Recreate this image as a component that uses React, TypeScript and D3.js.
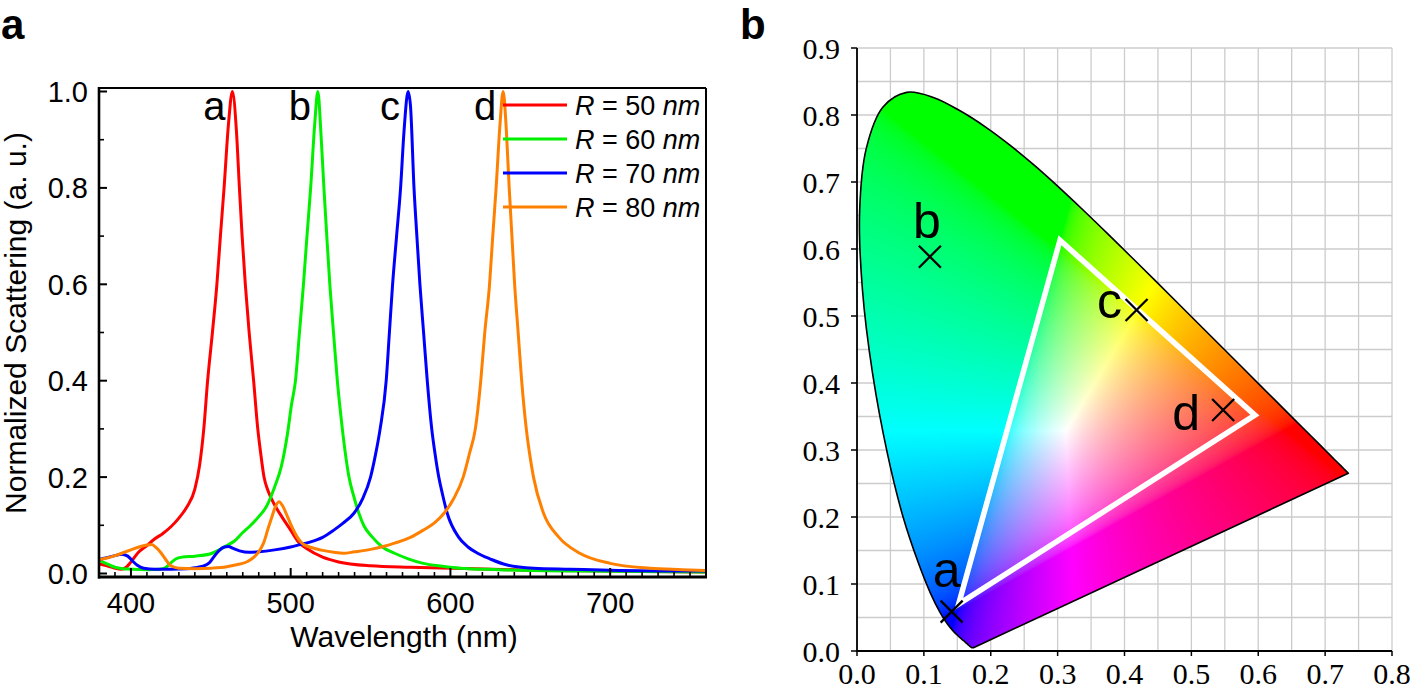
import React, { useMemo } from 'react';
import * as d3 from 'd3';

const W = 1415;
const H = 690;

// ---------------- Panel a data ----------------
const seriesLabels = ['50', '60', '70', '80'];
const seriesColors = ['#ff0000', '#00f000', '#0000ff', '#ff8000'];
const peakNames = ['a', 'b', 'c', 'd'];

const r50: [number, number][] = [
  [380, 0.020], [385, 0.016], [390, 0.011], [394, 0.009], [397, 0.013], [400, 0.024], [405, 0.045],
  [410, 0.058], [415, 0.072], [420, 0.083], [425, 0.097], [430, 0.115], [435, 0.138], [440, 0.175],
  [443, 0.225], [445.6, 0.30], [448, 0.40], [451, 0.50], [453.8, 0.60], [456, 0.70], [458.3, 0.80],
  [461, 0.93], [463.5, 1.0], [466, 0.92], [467.9, 0.80], [469.6, 0.70], [471.6, 0.60], [474, 0.50],
  [476.8, 0.40], [479.4, 0.30], [481.2, 0.25], [483.3, 0.20], [486, 0.17], [490, 0.142], [495, 0.115],
  [500, 0.090], [505, 0.065], [510, 0.052], [520, 0.034], [530, 0.024], [550, 0.016], [575, 0.013],
  [600, 0.011], [650, 0.007], [700, 0.005], [760, 0.003],
];
const r60: [number, number][] = [
  [380, 0.028], [385, 0.020], [390, 0.013], [395, 0.010], [400, 0.009], [410, 0.008], [418, 0.009],
  [422, 0.013], [425, 0.022], [428, 0.030], [432, 0.034], [440, 0.036], [450, 0.041], [460, 0.058],
  [465, 0.068], [470, 0.085], [475, 0.100], [480, 0.118], [485, 0.140], [490, 0.180], [494, 0.22],
  [498, 0.29], [500.5, 0.35], [503, 0.40], [505.5, 0.50], [508, 0.60], [510.2, 0.70], [512.5, 0.80],
  [515, 0.93], [517, 1.0], [519, 0.91], [520.8, 0.80], [522.6, 0.70], [524.5, 0.60], [526.8, 0.50],
  [529.2, 0.40], [532, 0.31], [534, 0.255], [536.5, 0.20], [539.5, 0.16], [542.7, 0.125], [546, 0.098],
  [551, 0.076], [557, 0.056], [565, 0.042], [574, 0.030], [583, 0.021], [595, 0.015], [606, 0.011],
  [630, 0.008], [680, 0.005], [760, 0.003],
];
const r70: [number, number][] = [
  [380, 0.029], [385, 0.033], [390, 0.037], [394, 0.040], [398, 0.036], [401, 0.026], [404, 0.017],
  [408, 0.011], [415, 0.009], [425, 0.009], [435, 0.010], [440, 0.012], [445, 0.015], [449, 0.022],
  [452, 0.035], [455, 0.047], [458.5, 0.055], [461, 0.056], [464, 0.052], [468, 0.047], [474, 0.044],
  [480, 0.045], [490, 0.049], [500, 0.055], [506, 0.060], [512, 0.065], [520, 0.075], [527, 0.090],
  [533, 0.105], [539.6, 0.125], [545, 0.155], [550, 0.200], [553, 0.245], [556, 0.30], [559.8, 0.40],
  [561.8, 0.50], [563.8, 0.60], [566.3, 0.70], [568.8, 0.80], [571, 0.92], [573.5, 1.0], [575, 0.97],
  [577.2, 0.80], [579, 0.70], [580.9, 0.60], [583.2, 0.50], [585.5, 0.40], [588.3, 0.30], [590.3, 0.25],
  [592.7, 0.20], [595, 0.165], [598, 0.125], [605, 0.076], [611, 0.055], [617, 0.042], [625, 0.030],
  [635, 0.018], [652, 0.011], [675, 0.009], [700, 0.007], [760, 0.005],
];
const r80: [number, number][] = [
  [380, 0.029], [385, 0.032], [390, 0.037], [395, 0.043], [400, 0.049], [405, 0.055], [410, 0.059],
  [413, 0.060], [416, 0.053], [419, 0.042], [422, 0.028], [425, 0.016], [430, 0.011], [440, 0.010],
  [450, 0.011], [460, 0.014], [466, 0.018], [473, 0.025], [477, 0.034], [480, 0.045], [483, 0.063],
  [486, 0.095], [488, 0.115], [490, 0.135], [492.7, 0.149], [495, 0.140], [498, 0.118], [501, 0.095],
  [504, 0.076], [507, 0.063], [511, 0.056], [515, 0.052], [520, 0.048], [527, 0.044], [533, 0.042],
  [540, 0.045], [550, 0.050], [558, 0.056], [565, 0.063], [575, 0.075], [583, 0.090], [590, 0.105],
  [596, 0.125], [602, 0.155], [608, 0.20], [612, 0.25], [615.6, 0.30], [619, 0.40], [621.5, 0.50],
  [624.5, 0.60], [626.5, 0.70], [628.6, 0.80], [631, 0.93], [633, 1.0], [635, 0.92], [636.8, 0.80],
  [638.5, 0.70], [640.2, 0.60], [642.4, 0.50], [644.6, 0.40], [647.5, 0.30], [649.5, 0.25], [652, 0.20],
  [658.3, 0.125], [667.7, 0.076], [681, 0.042], [700, 0.021], [725, 0.011], [745, 0.008], [760, 0.006],
];
const seriesData = [r50, r60, r70, r80];

const xTicksA = [400, 500, 600, 700];
const xMinorA = d3.range(390, 761, 10);
const yTicksA = [0, 0.2, 0.4, 0.6, 0.8, 1.0];
const yMinorA = [0.1, 0.3, 0.5, 0.7, 0.9];

// ---------------- Panel b data ----------------
// CIE 1931 2° spectral locus, 380–700 nm in 5 nm steps
const locusX = [
  0.1741, 0.1740, 0.1738, 0.1736, 0.1733, 0.1730, 0.1726, 0.1721, 0.1714, 0.1703, 0.1689, 0.1669,
  0.1644, 0.1611, 0.1566, 0.1510, 0.1440, 0.1355, 0.1241, 0.1096, 0.0913, 0.0687, 0.0454, 0.0235,
  0.0082, 0.0039, 0.0139, 0.0389, 0.0743, 0.1142, 0.1547, 0.1929, 0.2296, 0.2658, 0.3016, 0.3373,
  0.3731, 0.4087, 0.4441, 0.4788, 0.5125, 0.5448, 0.5752, 0.6029, 0.6270, 0.6482, 0.6658, 0.6801,
  0.6915, 0.7006, 0.7079, 0.7140, 0.7190, 0.7230, 0.7260, 0.7283, 0.7300, 0.7311, 0.7320, 0.7327,
  0.7334, 0.7340, 0.7344, 0.7346, 0.7347,
];
const locusY = [
  0.0050, 0.0050, 0.0049, 0.0049, 0.0048, 0.0048, 0.0048, 0.0048, 0.0051, 0.0058, 0.0069, 0.0086,
  0.0109, 0.0138, 0.0177, 0.0227, 0.0297, 0.0399, 0.0578, 0.0868, 0.1327, 0.2007, 0.2950, 0.4127,
  0.5384, 0.6548, 0.7502, 0.8120, 0.8338, 0.8262, 0.8059, 0.7816, 0.7543, 0.7243, 0.6923, 0.6589,
  0.6245, 0.5896, 0.5547, 0.5202, 0.4866, 0.4544, 0.4242, 0.3965, 0.3725, 0.3514, 0.3340, 0.3197,
  0.3083, 0.2993, 0.2920, 0.2859, 0.2809, 0.2770, 0.2740, 0.2717, 0.2700, 0.2689, 0.2680, 0.2673,
  0.2666, 0.2660, 0.2656, 0.2654, 0.2653,
];
const triangleX = [0.152, 0.3035, 0.595];
const triangleY = [0.070, 0.613, 0.352];
const markerNames = ['a', 'b', 'c', 'd'];
const markerX = [0.1415, 0.109, 0.418, 0.5475];
const markerY = [0.0587, 0.5885, 0.509, 0.3597];
const xTicksB = [0, 0.1, 0.2, 0.3, 0.4, 0.5, 0.6, 0.7, 0.8];
const yTicksB = [0, 0.1, 0.2, 0.3, 0.4, 0.5, 0.6, 0.7, 0.8, 0.9];
const gridB = d3.range(0, 0.901, 0.05);

// label offsets (layout)
const markerLabelDx = [-5, -3, -27, -37];
const markerLabelDy = [-25, -19, 8, 20];

const SANS = "'Liberation Sans', Arial, Helvetica, sans-serif";
const SERIF = "'Liberation Serif', 'Times New Roman', Times, serif";

function xyToRGB(x: number, y: number): [number, number, number] {
  const X = x / y;
  const Y = 1;
  const Z = (1 - x - y) / y;
  let r = 3.2406 * X - 1.5372 * Y - 0.4986 * Z;
  let g = -0.9689 * X + 1.8758 * Y + 0.0415 * Z;
  let b = 0.0557 * X - 0.204 * Y + 1.057 * Z;
  r = Math.max(r, 0);
  g = Math.max(g, 0);
  b = Math.max(b, 0);
  const m = Math.max(r, g, b) || 1;
  const gam = (c: number) => {
    c = c / m;
    const v = c <= 0.0031308 ? 12.92 * c : 1.055 * Math.pow(c, 1 / 2.4) - 0.055;
    return Math.round(Math.min(1, Math.max(0, v)) * 255);
  };
  return [gam(r), gam(g), gam(b)];
}

export default function App() {
  // Panel a scales
  const ax = d3.scaleLinear().domain([380, 760]).range([99, 706]);
  const ay = d3.scaleLinear().domain([0, 1]).range([573.5, 91.5]);
  const frameTop = 88;
  const frameBottom = 577;
  const lineGen = d3
    .line<[number, number]>()
    .x((d) => ax(d[0]))
    .y((d) => ay(d[1]))
    .curve(d3.curveMonotoneX);

  // Panel b scales
  const bx = d3.scaleLinear().domain([0, 0.8]).range([857, 1392]);
  const by = d3.scaleLinear().domain([0, 0.9]).range([651, 48]);

  const locusPts: [number, number][] = locusX.map((x, i) => [bx(x), by(locusY[i])]);
  const locusPath = d3.line().curve(d3.curveCatmullRom.alpha(0.5))(locusPts) + 'Z';

  const imgHref = useMemo(() => {
    const x0 = Math.floor(bx(0));
    const y0 = Math.floor(by(0.9));
    const w = Math.ceil(bx(0.8)) - x0;
    const h = Math.ceil(by(0)) - y0;
    const canvas = document.createElement('canvas');
    canvas.width = w;
    canvas.height = h;
    const ctx = canvas.getContext('2d');
    if (!ctx) return '';
    const img = ctx.createImageData(w, h);
    for (let j = 0; j < h; j++) {
      const yy = by.invert(y0 + j + 0.5);
      for (let i = 0; i < w; i++) {
        const xx = bx.invert(x0 + i + 0.5);
        const k = (j * w + i) * 4;
        if (yy <= 0.001 || xx < 0) {
          img.data[k + 3] = 0;
          continue;
        }
        const [r, g, b] = xyToRGB(xx, yy);
        img.data[k] = r;
        img.data[k + 1] = g;
        img.data[k + 2] = b;
        img.data[k + 3] = 255;
      }
    }
    ctx.putImageData(img, 0, 0);
    return canvas.toDataURL();
  }, []);

  const imgX = Math.floor(bx(0));
  const imgY = Math.floor(by(0.9));
  const imgW = Math.ceil(bx(0.8)) - imgX;
  const imgH = Math.ceil(by(0)) - imgY;

  const triPath =
    d3.line()(triangleX.map((x, i) => [bx(x), by(triangleY[i])] as [number, number])) + 'Z';

  const peakOf = (d: [number, number][]) => d.reduce((a, b) => (b[1] > a[1] ? b : a));

  return (
    <svg
      width={W}
      height={H}
      style={{ position: 'absolute', left: 0, top: 0, background: '#fff' }}
      fontFamily={SANS}
    >
      <rect x={0} y={0} width={W} height={H} fill="#fff" />
      <defs>
        <clipPath id="clipA">
          <rect x={ax(380)} y={frameTop} width={ax(760) - ax(380)} height={frameBottom - frameTop} />
        </clipPath>
        <clipPath id="clipLocus">
          <path d={locusPath} />
        </clipPath>
      </defs>

      {/* ================= Panel a ================= */}
      <text x={1} y={39} fontSize={42} fontWeight="bold" fill="#000">
        a
      </text>

      {/* curves */}
      <g clipPath="url(#clipA)">
        {seriesData.map((d, i) => (
          <path
            key={i}
            d={lineGen(d) || ''}
            fill="none"
            stroke={seriesColors[i]}
            strokeWidth={3}
            strokeLinejoin="round"
          />
        ))}
      </g>

      {/* frame */}
      <line x1={ax(380)} x2={ax(760)} y1={frameTop} y2={frameTop} stroke="#000" strokeWidth={2} />
      <line x1={ax(760)} x2={ax(760)} y1={frameTop} y2={frameBottom} stroke="#000" strokeWidth={2} />
      <line x1={ax(380)} x2={ax(380)} y1={frameTop - 1} y2={frameBottom + 1.5} stroke="#000" strokeWidth={2.6} />
      <line x1={ax(380) - 1} x2={ax(760) + 1} y1={frameBottom} y2={frameBottom} stroke="#000" strokeWidth={3} />

      {/* ticks */}
      {xTicksA.map((t) => (
        <line key={'xt' + t} x1={ax(t)} x2={ax(t)} y1={frameBottom} y2={frameBottom - 9} stroke="#000" strokeWidth={2} />
      ))}
      {xMinorA.filter((t) => t % 100 !== 0).map((t) => (
        <line key={'xm' + t} x1={ax(t)} x2={ax(t)} y1={frameBottom} y2={frameBottom - 5} stroke="#000" strokeWidth={1.6} />
      ))}
      {yTicksA.map((t) => (
        <line key={'yt' + t} x1={ax(380)} x2={ax(380) + 8} y1={ay(t)} y2={ay(t)} stroke="#000" strokeWidth={2} />
      ))}
      {yMinorA.map((t) => (
        <line key={'ym' + t} x1={ax(380)} x2={ax(380) + 5} y1={ay(t)} y2={ay(t)} stroke="#000" strokeWidth={1.6} />
      ))}

      {/* tick labels */}
      {xTicksA.map((t) => (
        <text key={'xl' + t} x={ax(t)} y={613} fontSize={29} textAnchor="middle" fill="#000">
          {t}
        </text>
      ))}
      {yTicksA.map((t) => (
        <text key={'yl' + t} x={88} y={ay(t) + 10.5} fontSize={29} textAnchor="end" fill="#000">
          {t.toFixed(1)}
        </text>
      ))}

      {/* axis titles */}
      <text x={404} y={647} fontSize={30} textAnchor="middle" fill="#000">
        Wavelength (nm)
      </text>
      <text transform="translate(26,323) rotate(-90)" fontSize={30} textAnchor="middle" fill="#000">
        Normalized Scattering (a. u.)
      </text>

      {/* peak labels */}
      {seriesData.map((d, i) => {
        const p = peakOf(d);
        return (
          <text key={'pk' + i} x={ax(p[0]) - 18} y={120} fontSize={40} textAnchor="middle" fill="#000">
            {peakNames[i]}
          </text>
        );
      })}

      {/* legend */}
      {seriesLabels.map((s, i) => {
        const yy = 105 + i * 34;
        return (
          <g key={'lg' + i}>
            <line x1={503} x2={567} y1={yy} y2={yy} stroke={seriesColors[i]} strokeWidth={3} />
            <text x={575} y={yy + 9.5} fontSize={27} fill="#000">
              <tspan fontStyle="italic">R</tspan>
              <tspan>{' = ' + s + ' '}</tspan>
              <tspan fontStyle="italic">nm</tspan>
            </text>
          </g>
        );
      })}

      {/* ================= Panel b ================= */}
      <text x={740} y={39} fontSize={42} fontWeight="bold" fill="#000">
        b
      </text>

      {/* grid */}
      {gridB.filter((g) => g <= 0.8001).map((g, i) => (
        <line key={'gx' + i} x1={bx(g)} x2={bx(g)} y1={by(0)} y2={by(0.9)} stroke="#cccccc" strokeWidth={1.3} />
      ))}
      {gridB.map((g, i) => (
        <line key={'gy' + i} x1={bx(0)} x2={bx(0.8)} y1={by(g)} y2={by(g)} stroke="#cccccc" strokeWidth={1.3} />
      ))}

      {/* chromaticity fill */}
      {imgHref && (
        <image
          href={imgHref}
          x={imgX}
          y={imgY}
          width={imgW}
          height={imgH}
          preserveAspectRatio="none"
          clipPath="url(#clipLocus)"
        />
      )}
      <path d={locusPath} fill="none" stroke="#000" strokeWidth={1.6} strokeLinejoin="round" />

      {/* gamut triangle */}
      <path d={triPath} fill="none" stroke="#fff" strokeWidth={5.5} strokeLinejoin="miter" />

      {/* markers */}
      {markerX.map((x, i) => {
        const cx = bx(x);
        const cy = by(markerY[i]);
        const s = 11;
        return (
          <g key={'mk' + i}>
            <line x1={cx - s} x2={cx + s} y1={cy - s} y2={cy + s} stroke="#000" strokeWidth={2.3} />
            <line x1={cx - s} x2={cx + s} y1={cy + s} y2={cy - s} stroke="#000" strokeWidth={2.3} />
            <text
              x={cx + markerLabelDx[i]}
              y={cy + markerLabelDy[i]}
              fontSize={50}
              textAnchor="middle"
              fill="#000"
            >
              {markerNames[i]}
            </text>
          </g>
        );
      })}

      {/* axes */}
      <line x1={bx(0)} x2={bx(0)} y1={by(0) + 0.5} y2={by(0.9)} stroke="#000" strokeWidth={1.8} />
      <line x1={bx(0)} x2={bx(0.8)} y1={by(0)} y2={by(0)} stroke="#000" strokeWidth={1.8} />
      {yTicksB.map((t) => (
        <line key={'byt' + t} x1={bx(0) - 6} x2={bx(0)} y1={by(t)} y2={by(t)} stroke="#000" strokeWidth={1.5} />
      ))}
      {xTicksB.map((t) => (
        <line key={'bxt' + t} x1={bx(t)} x2={bx(t)} y1={by(0)} y2={by(0) + 5} stroke="#000" strokeWidth={1.5} />
      ))}
      {yTicksB.map((t) => (
        <text key={'byl' + t} x={840} y={by(t) + 11} fontSize={30} fontFamily={SERIF} textAnchor="end" fill="#000">
          {t.toFixed(1)}
        </text>
      ))}
      {xTicksB.map((t) => (
        <text key={'bxl' + t} x={bx(t)} y={684} fontSize={30} fontFamily={SERIF} textAnchor="middle" fill="#000">
          {t.toFixed(1)}
        </text>
      ))}
    </svg>
  );
}
